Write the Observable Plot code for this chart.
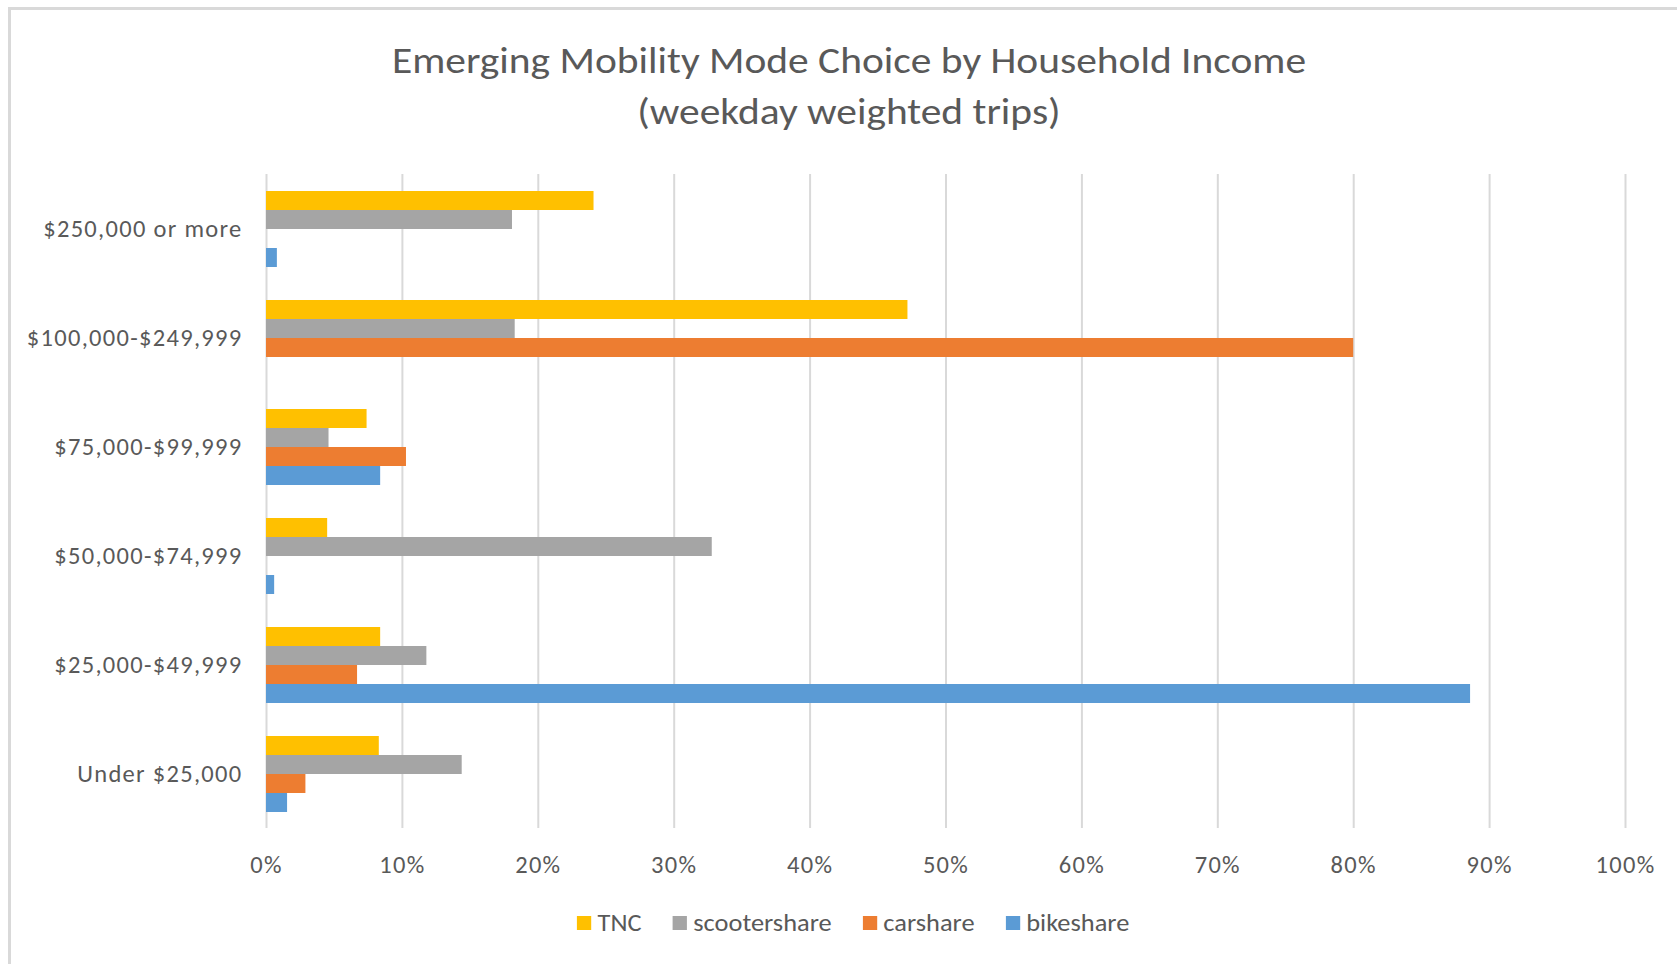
<!DOCTYPE html>
<html>
<head>
<meta charset="utf-8">
<script src="https://cdn.jsdelivr.net/npm/d3@7"></script>
<script src="https://cdn.jsdelivr.net/npm/@observablehq/plot@0.6"></script>
<style>
  html, body { margin: 0; padding: 0; background: #fff; overflow: hidden; }
  #wrap { position: relative; width: 1677px; height: 964px; font-family: Carlito, Lato, "Open Sans", sans-serif; color: #595959; }
  #frame { position: absolute; left: 8px; top: 7px; width: 1720px; height: 1000px; border: 3px solid #d9d9d9; box-sizing: border-box; }
  #title { position: absolute; left: 0; top: 0; width: 1698px; text-align: center; font-size: 37px; line-height: 51px; padding-top: 35px; transform: scaleX(1.12); transform-origin: 849px 0; }
  #chart { position: absolute; left: 0; top: 150px; }
  #chart text { letter-spacing: 1.3px; }
  #legend { position: absolute; left: 0; top: 908px; width: 1706px; display: flex; justify-content: center; align-items: center; font-size: 24px; transform: scaleX(1.1); transform-origin: 853px 0; }
  .item { display: flex; align-items: center; margin: 0 14px; }
  .sw { width: 13px; height: 14px; margin-right: 6px; }
</style>
</head>
<body>
<div id="wrap">
  <div id="frame"></div>
  <div id="title">Emerging Mobility Mode Choice by Household Income<br>(weekday weighted trips)</div>
  <div id="chart"></div>
  <div id="legend"></div>
</div>
<script>
const incomes = ["$250,000 or more", "$100,000-$249,999", "$75,000-$99,999", "$50,000-$74,999", "$25,000-$49,999", "Under $25,000"];
const modes = ["TNC", "scootershare", "carshare", "bikeshare"];
const colors = ["#FFC000", "#A5A5A5", "#ED7D31", "#5B9BD5"];
const tnc = [0.241, 0.472, 0.074, 0.045, 0.084, 0.083];
const scootershare = [0.181, 0.183, 0.046, 0.328, 0.118, 0.144];
const carshare = [0, 0.800, 0.103, 0, 0.067, 0.029];
const bikeshare = [0.008, 0, 0.084, 0.006, 0.886, 0.0155];
const xTicks = [0, 0.1, 0.2, 0.3, 0.4, 0.5, 0.6, 0.7, 0.8, 0.9, 1.0];

const series = {TNC: tnc, scootershare, carshare, bikeshare};
const data = [];
incomes.forEach((inc, i) => {
  modes.forEach(m => data.push({income: inc, mode: m, value: series[m][i]}));
});

const chart = Plot.plot({
  width: 1677,
  height: 739,
  marginLeft: 266,
  marginRight: 52,
  marginTop: 22,
  marginBottom: 60,
  style: {fontFamily: "Carlito, Lato, 'Open Sans', sans-serif", fontSize: "24.5px", color: "#595959", background: "transparent"},
  x: {domain: [0, 1], ticks: xTicks, tickFormat: d3.format(".0%"), tickSize: 0, tickPadding: 27, label: null},
  y: {domain: modes, axis: null, paddingInner: 0, paddingOuter: 0.78},
  fy: {domain: incomes, padding: 0, label: null, tickSize: 0, tickPadding: 24},
  color: {domain: modes, range: colors},
  facet: {data: data, y: "income", label: null},
  marks: [
    Plot.gridX(xTicks, {stroke: "#d9d9d9", strokeWidth: 2, strokeOpacity: 1}),
    Plot.barX(data, {x: "value", y: "mode", fill: "mode", inset: 0})
  ]
});
document.getElementById("chart").appendChild(chart);

const legend = document.getElementById("legend");
modes.forEach((m, i) => {
  const it = document.createElement("div");
  it.className = "item";
  const sw = document.createElement("div");
  sw.className = "sw";
  sw.style.background = colors[i];
  const t = document.createElement("span");
  t.textContent = m;
  it.appendChild(sw);
  it.appendChild(t);
  legend.appendChild(it);
});
</script>
</body>
</html>
